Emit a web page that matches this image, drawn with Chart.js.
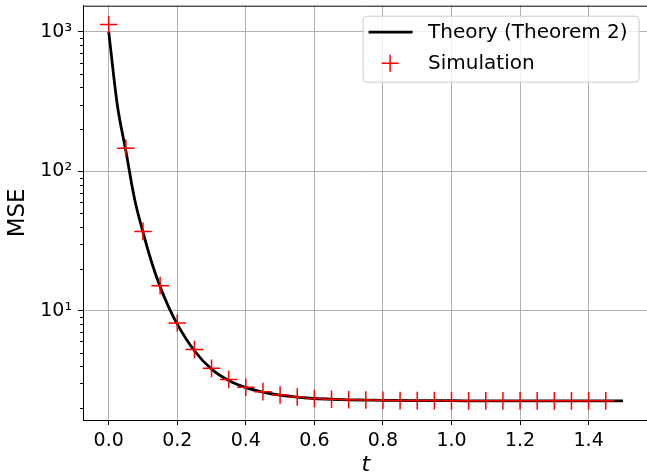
<!DOCTYPE html>
<html>
<head>
<meta charset="utf-8">
<script src="https://cdn.jsdelivr.net/npm/chart.js@4.4.0/dist/chart.umd.min.js"></script>
<style>
html,body{margin:0;padding:0;background:#fff;overflow:hidden}
#wrap{width:647px;height:475px;overflow:hidden}
</style>
</head>
<body>
<div id="wrap"><canvas id="chart_mse" width="660" height="475"></canvas></div>
<script>
/* CURVA TEORICA (Theorem 2) */
var theory_t = [0, 0.025, 0.05, 0.075, 0.1, 0.125, 0.15, 0.175, 0.2, 0.25, 0.3, 0.35, 0.4, 0.45, 0.5, 0.55, 0.6, 0.65, 0.7, 0.75, 0.8, 0.9, 1.0, 1.1, 1.2, 1.3, 1.4, 1.5]
var theory_mse = [1000, 300, 140, 64, 36.5, 22.3, 14.8, 10.6, 8.0, 5.15, 3.8, 3.15, 2.8, 2.6, 2.47, 2.39, 2.34, 2.31, 2.29, 2.28, 2.27, 2.26, 2.255, 2.25, 2.25, 2.25, 2.25, 2.25]

/* PUNTOS DE SIMULACION */
var sim_t = [0, 0.05, 0.1, 0.15, 0.2, 0.25, 0.3, 0.35, 0.4, 0.45, 0.5, 0.55, 0.6, 0.65, 0.7, 0.75, 0.8, 0.85, 0.9, 0.95, 1.0, 1.05, 1.1, 1.15, 1.2, 1.25, 1.3, 1.35, 1.4, 1.45]
var sim_mse = [1130, 146, 37, 15.1, 8.15, 5.25, 3.85, 3.2, 2.82, 2.62, 2.48, 2.4, 2.34, 2.31, 2.29, 2.28, 2.27, 2.26, 2.26, 2.26, 2.25, 2.25, 2.25, 2.25, 2.25, 2.25, 2.25, 2.25, 2.25, 2.25]

var x_ticks = [0, 0.2, 0.4, 0.6, 0.8, 1.0, 1.2, 1.4]
var y_ticks = [10, 100, 1000]
var y_minor = [2, 3, 4, 5, 6, 7, 8, 9, 20, 30, 40, 50, 60, 70, 80, 90, 200, 300, 400, 500, 600, 700, 800, 900]
var sup = {1: '\u00b9', 2: '\u00b2', 3: '\u00b3'}

var FONT = 'DejaVu Sans'

function toPoints(xs, ys){
    var out = []
    for(var i = 0; i < xs.length; ++i)
        out.push({x: xs[i], y: ys[i]})
    return out
}

// marco superior, ticks menores y leyenda al estilo matplotlib
var extras = {
    id: 'extras',
    afterDraw: function(chart){
        var ctx = chart.ctx
        var area = chart.chartArea
        var ys = chart.scales.y
        ctx.save()
        // spine superior
        ctx.strokeStyle = '#000'
        ctx.lineWidth = 1
        ctx.beginPath()
        ctx.moveTo(area.left, area.top + 0.5)
        ctx.lineTo(area.right, area.top + 0.5)
        ctx.stroke()
        // ticks menores eje y
        for(var i = 0; i < y_minor.length; ++i){
            var v = y_minor[i]
            if(v < ys.min || v > ys.max) continue
            var py = Math.round(ys.getPixelForValue(v)) + 0.5
            ctx.beginPath()
            ctx.moveTo(area.left - 3, py)
            ctx.lineTo(area.left, py)
            ctx.stroke()
        }
        // leyenda
        var bw = 276, bh = 66
        var bx = area.right - 10 - bw, by = area.top + 10
        ctx.fillStyle = 'rgba(255,255,255,0.8)'
        ctx.strokeStyle = '#cccccc'
        ctx.lineWidth = 1
        ctx.beginPath()
        ctx.roundRect(bx + 0.5, by + 0.5, bw, bh, 4)
        ctx.fill()
        ctx.stroke()

        var ds = chart.data.datasets
        var row1 = by + 16.5, row2 = by + 47.5
        ctx.strokeStyle = '#000'
        ctx.lineWidth = 2.8
        ctx.beginPath()
        ctx.moveTo(bx + 6, row1)
        ctx.lineTo(bx + 50, row1)
        ctx.stroke()

        ctx.strokeStyle = 'red'
        ctx.lineWidth = 1.5
        ctx.beginPath()
        ctx.moveTo(bx + 27.5 - 8.5, row2)
        ctx.lineTo(bx + 27.5 + 8.5, row2)
        ctx.moveTo(bx + 27.5, row2 - 8.5)
        ctx.lineTo(bx + 27.5, row2 + 8.5)
        ctx.stroke()

        ctx.fillStyle = '#000'
        ctx.font = '20px "' + FONT + '"'
        ctx.textBaseline = 'middle'
        ctx.textAlign = 'left'
        ctx.fillText(ds[1].label, bx + 65.5, row1 + 1)
        ctx.fillText(ds[0].label, bx + 65.5, row2 + 1)
        ctx.restore()
    }
}

var chart = new Chart(document.getElementById('chart_mse').getContext('2d'), {
    type: 'line',
    data: {
        datasets: [
            {
                label: 'Simulation',
                data: toPoints(sim_t, sim_mse),
                showLine: false,
                pointStyle: 'cross',
                pointRadius: 8.8,
                borderColor: 'red',
                backgroundColor: 'red',
                pointBorderWidth: 1.5,
                order: 0
            },
            {
                label: 'Theory (Theorem 2)',
                data: toPoints(theory_t, theory_mse),
                borderColor: '#000',
                borderWidth: 2.8,
                pointRadius: 0,
                cubicInterpolationMode: 'monotone',
                fill: false,
                order: 1
            }
        ]
    },
    options: {
        responsive: false,
        animation: false,
        devicePixelRatio: 1,
        events: [],
        layout: {autoPadding: false, padding: {top: 5.7, right: 11.4, left: 0, bottom: 0}},
        plugins: {legend: {display: false}, tooltip: {enabled: false}},
        scales: {
            x: {
                type: 'linear',
                min: -0.075,
                max: 1.575,
                afterBuildTicks: function(s){ s.ticks = x_ticks.map(function(v){ return {value: v} }) },
                afterFit: function(s){ s.height = 55; s.paddingLeft = 0; s.paddingRight = 0 },
                ticks: {
                    autoSkip: false, maxRotation: 0, padding: 5, color: '#000',
                    font: {family: FONT, size: 19},
                    callback: function(v){ return v.toFixed(1) }
                },
                grid: {color: '#b0b0b0', lineWidth: 1, tickColor: '#000', tickLength: 5},
                border: {color: '#000', width: 1},
                title: {
                    display: true, text: 't', color: '#000',
                    font: {family: FONT, style: 'italic', size: 22},
                    padding: {top: 0, bottom: -3}
                }
            },
            y: {
                type: 'logarithmic',
                min: 1.64,
                max: 1540,
                afterBuildTicks: function(s){ s.ticks = y_ticks.map(function(v){ return {value: v} }) },
                afterFit: function(s){ s.width = 83; s.paddingTop = 0; s.paddingBottom = 0 },
                ticks: {
                    autoSkip: false, padding: 6, color: '#000',
                    font: {family: FONT, size: 19},
                    callback: function(v){ return '10' + sup[Math.round(Math.log10(v))] }
                },
                grid: {color: '#b0b0b0', lineWidth: 1, tickColor: '#000', tickLength: 5},
                border: {color: '#000', width: 1},
                title: {
                    display: true, text: 'MSE', color: '#000',
                    font: {family: FONT, size: 23},
                    padding: {top: 4, bottom: 0}
                }
            }
        }
    },
    plugins: [extras]
})
</script>
</body>
</html>
